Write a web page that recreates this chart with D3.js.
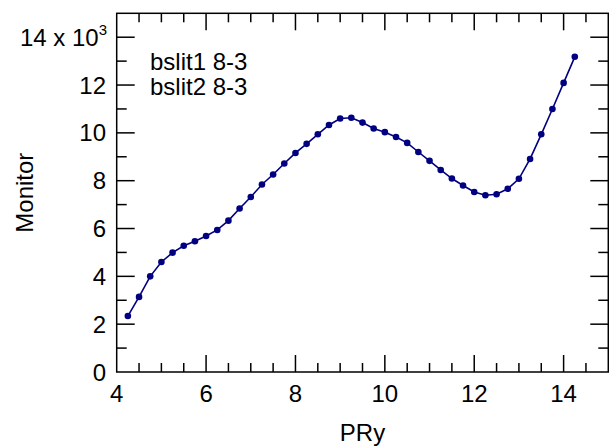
<!DOCTYPE html>
<html lang="en">
<head>
<meta charset="UTF-8" />
<title>Monitor vs PRy</title>
<script src="https://d3js.org/d3.v7.min.js"></script>
<style>
  body { margin: 0; background: #fff; }
  text { font-family: "Liberation Sans", Arial, Helvetica, sans-serif; fill: #000; }
</style>
</head>
<body>
<svg id="svg" width="609" height="448"></svg>
<script>
// data
const pry = [4.25, 4.5, 4.75, 5, 5.25, 5.5, 5.75, 6, 6.25, 6.5, 6.75,
  7, 7.25, 7.5, 7.75, 8, 8.25, 8.5, 8.75, 9, 9.25, 9.5, 9.75, 10,
  10.25, 10.5, 10.75, 11, 11.25, 11.5, 11.75, 12, 12.25, 12.5, 12.75,
  13, 13.25, 13.5, 13.75, 14, 14.25]
const monitor = [2340, 3140, 4000, 4600, 4990, 5280, 5470, 5690, 5940, 6330, 6840,
  7320, 7840, 8260, 8720, 9160, 9540, 9940, 10330, 10600, 10630, 10430, 10180, 10030,
  9830, 9580, 9200, 8830, 8450, 8090, 7800, 7530, 7390, 7430, 7660,
  8080, 8910, 9940, 11000, 12090, 13180]
const xTicks = [4, 6, 8, 10, 12, 14]
const yTicks = [0, 2000, 4000, 6000, 8000, 10000, 12000, 14000]
const legendLines = ['bslit1 8-3', 'bslit2 8-3']

const svg = d3.select('#svg')
const L = 116.7, R = 608.3, T = 13.3, B = 372

const x = d3.scaleLinear().domain([4, 15]).range([L, R])
const y = d3.scaleLinear().domain([0, 15000]).range([B, T])

const frame = svg.append('g').attr('stroke', '#000').attr('stroke-width', 1.5)

// minor / major ticks, inside, on all four sides
const xMinor = d3.range(4, 15.01, 0.5)
xMinor.forEach(v => {
  const len = (v % 2 === 0) ? 17 : 9
  if (v === 4 || v === 15) return
  frame.append('line').attr('x1', x(v)).attr('x2', x(v)).attr('y1', B).attr('y2', B - len)
  frame.append('line').attr('x1', x(v)).attr('x2', x(v)).attr('y1', T).attr('y2', T + len)
})
const yMinor = d3.range(0, 15001, 1000)
yMinor.forEach(v => {
  const len = (v % 2000 === 0) ? 18 : 10
  if (v === 0 || v === 15000) return
  frame.append('line').attr('x1', L).attr('x2', L + len).attr('y1', y(v)).attr('y2', y(v))
  frame.append('line').attr('x1', R).attr('x2', R - len).attr('y1', y(v)).attr('y2', y(v))
})

frame.append('rect')
  .attr('x', L).attr('y', T)
  .attr('width', R - L).attr('height', B - T)
  .attr('fill', 'none')

// tick labels
svg.selectAll('.xl').data(xTicks).enter().append('text')
  .attr('x', d => x(d)).attr('y', 402)
  .attr('text-anchor', 'middle').style('font-size', '24px')
  .text(d => d)

svg.selectAll('.yl').data(yTicks).enter().append('text')
  .attr('x', 106).attr('y', d => y(d) + 8.5)
  .attr('text-anchor', 'end').style('font-size', '24px')
  .each(function (d) {
    const t = d3.select(this)
    if (d === 14000) {
      t.append('tspan').text('14 x 10')
      t.append('tspan').attr('dy', -11).style('font-size', '15px').text('3')
      t.attr('x', 107)
    } else {
      t.text(d / 1000)
    }
  })

// axis titles
svg.append('text').attr('x', (L + R) / 2).attr('y', 441)
  .attr('text-anchor', 'middle').style('font-size', '24px').text('PRy')
svg.append('text')
  .attr('transform', `translate(33,${(T + B) / 2}) rotate(-90)`)
  .attr('text-anchor', 'middle').style('font-size', '24px').text('Monitor')

// legend text
svg.selectAll('.lg').data(legendLines).enter().append('text')
  .attr('x', 150).attr('y', (d, i) => 70 + i * 25)
  .style('font-size', '24px').text(d => d)

// series
const pts = pry.map((v, i) => [v, monitor[i]])
svg.append('path').datum(pts)
  .attr('fill', 'none').attr('stroke', '#000080').attr('stroke-width', 1.6)
  .attr('d', d3.line().x(d => x(d[0])).y(d => y(d[1])))
svg.selectAll('.pt').data(pts).enter().append('circle')
  .attr('cx', d => x(d[0])).attr('cy', d => y(d[1])).attr('r', 3.3)
  .attr('fill', '#000080')
</script>
</body>
</html>
